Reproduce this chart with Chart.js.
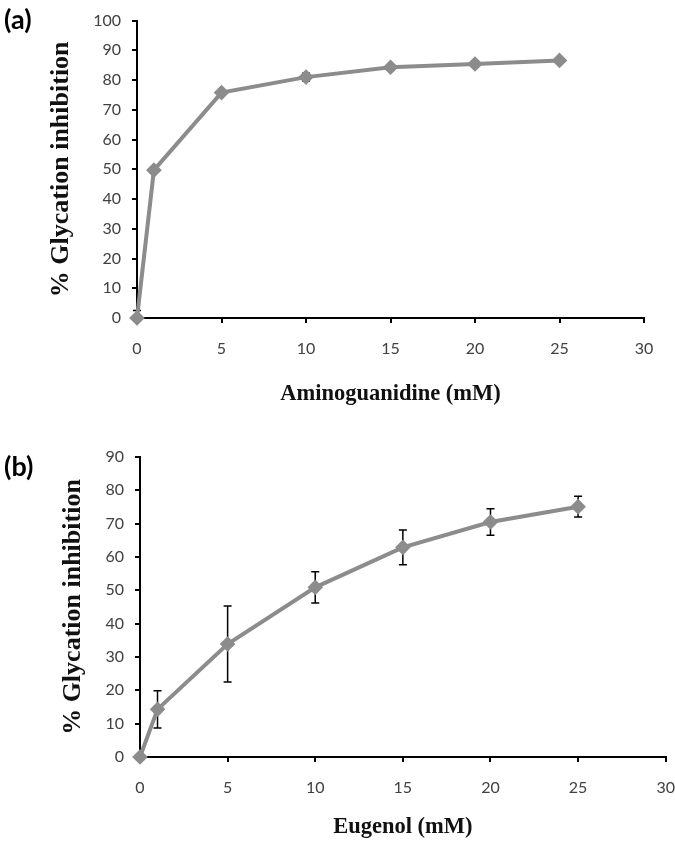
<!DOCTYPE html>
<html>
<head>
<meta charset="utf-8">
<script src="https://cdn.jsdelivr.net/npm/chart.js@4"></script>
<style>
  html, body { margin: 0; padding: 0; background: #fff; }
  body { width: 675px; height: 843px; position: relative; overflow: hidden; }
  .panel { position: absolute; left: 0; }
  .tag { position: absolute; left: 4px; font: bold 27px Lato, sans-serif; color: #000; z-index: 1; }
</style>
</head>
<body>
<div class="tag" style="top:2px">(a)</div>
<div class="tag" style="top:449px">(b)</div>
<div class="panel" style="top:0; width:675px; height:415px"><canvas id="chartA"></canvas></div>
<!-- a bit wider than the page so the axis can run to the right edge -->
<div class="panel" style="top:430px; width:691px; height:413px"><canvas id="chartB"></canvas></div>
<script>
// Concentrations (mM)
const doses = [0, 1, 5, 10, 15, 20, 25];

// (a) Aminoguanidine
const aminoInhibition = [0, 49.7, 75.8, 81.0, 84.3, 85.4, 86.6];
const aminoError = [2.5, 1.0, 0.8, 1.3, 0.8, 0.8, 0.5];

// (b) Eugenol
const eugenolInhibition = [0, 14.3, 33.9, 50.9, 62.9, 70.5, 75.1];
const eugenolError = [0, 5.6, 11.4, 4.7, 5.2, 4.0, 3.1];

const lineGrey = '#8c8c8c';

// draws the black error bars through the chart scales
const errorBars = {
  id: 'errorBars',
  beforeDatasetsDraw(chart, args, opts) {
    const { ctx, chartArea, scales: { x, y } } = chart;
    const pts = chart.data.datasets[0].data;
    ctx.save();
    ctx.strokeStyle = '#000';
    ctx.lineWidth = 1.5;
    pts.forEach((p, i) => {
      const e = opts.errors[i];
      if (!e) return;
      const px = x.getPixelForValue(p.x);
      const top = y.getPixelForValue(p.y + e);
      const bot = Math.min(y.getPixelForValue(p.y - e), chartArea.bottom);
      ctx.beginPath();
      ctx.moveTo(px, top); ctx.lineTo(px, bot);
      ctx.moveTo(px - 4, top); ctx.lineTo(px + 4, top);
      if (bot < chartArea.bottom) { ctx.moveTo(px - 4, bot); ctx.lineTo(px + 4, bot); }
      ctx.stroke();
    });
    ctx.restore();
  }
};

function makeChart(id, values, errors, cfg) {
  return new Chart(document.getElementById(id), {
    type: 'line',
    data: {
      datasets: [{
        data: doses.map((d, i) => ({ x: d, y: values[i] })),
        borderColor: lineGrey,
        backgroundColor: lineGrey,
        borderWidth: 4,
        pointStyle: 'rectRot',
        pointRadius: 5,
        pointHoverRadius: 5,
        tension: 0,
        clip: false
      }]
    },
    options: {
      responsive: true,
      maintainAspectRatio: false,
      animation: false,
      events: [],
      layout: { padding: { top: cfg.padTop, right: cfg.padRight, left: 0, bottom: 0 } },
      plugins: {
        legend: { display: false },
        tooltip: { enabled: false },
        errorBars: { errors: errors }
      },
      scales: {
        x: {
          type: 'linear',
          min: 0, max: 30,
          afterFit: s => { s.height = cfg.xHeight; },
          border: { display: true, color: '#000', width: 2 },
          grid: { drawOnChartArea: false, drawTicks: true, tickLength: 5, color: '#000', lineWidth: 2 },
          ticks: { stepSize: 5, padding: 16, color: '#404040', font: { family: 'Lato', size: cfg.tickSize } },
          title: {
            display: true, text: cfg.xTitle, color: '#111',
            font: { family: 'Liberation Serif', size: 22.5, weight: 'bold' },
            padding: { top: 0, bottom: cfg.xTitlePad }
          }
        },
        y: {
          min: 0, max: cfg.yMax,
          afterFit: s => { s.width = cfg.yWidth; },
          border: { display: true, color: '#000', width: 2 },
          grid: { drawOnChartArea: false, drawTicks: true, tickLength: 5, color: '#000', lineWidth: 2 },
          ticks: { stepSize: 10, padding: 11, color: '#404040', font: { family: 'Lato', size: cfg.tickSize } },
          title: {
            display: true, text: '% Glycation inhibition', color: '#111',
            font: { family: 'Liberation Serif', size: 26, weight: 'bold' },
            padding: { top: cfg.yTitlePad, bottom: 0 }
          }
        }
      }
    },
    plugins: [errorBars]
  });
}

makeChart('chartA', aminoInhibition, aminoError, {
  padTop: 10, padRight: 31, xHeight: 97, yWidth: 137, yMax: 100,
  tickSize: 16, xTitle: 'Aminoguanidine (mM)', xTitlePad: 7, yTitlePad: 46
});

makeChart('chartB', eugenolInhibition, eugenolError, {
  padTop: 27, padRight: 0, xHeight: 86, yWidth: 140, yMax: 90,
  tickSize: 16, xTitle: 'Eugenol (mM)', xTitlePad: 2, yTitlePad: 58
});
</script>
</body>
</html>
